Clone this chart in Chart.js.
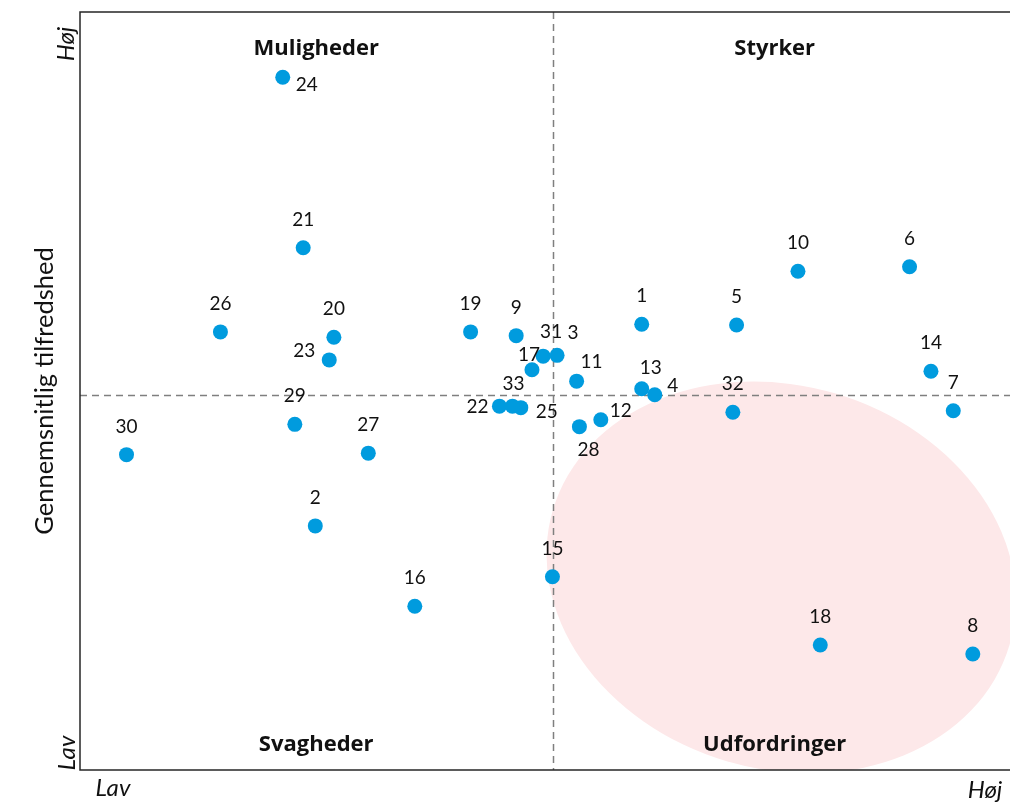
<!DOCTYPE html>
<html>
<head>
<meta charset="utf-8">
<script src="https://cdn.jsdelivr.net/npm/chart.js@4/dist/chart.umd.min.js"></script>
<style>
  html, body { margin: 0; padding: 0; background: #fff; overflow: hidden; }
  #wrap { width: 1010px; height: 803px; }
</style>
</head>
<body>
<div id="wrap"><canvas id="c" width="1010" height="803"></canvas></div>
<script>
// ---- Data ----
const pointIds = ['1','2','3','4','5','6','7','8','9','10','11','12','13','14','15','16','17','18','19','20','21','22','23','24','25','26','27','28','29','30','31','32','33'];
const importance = [60.4, 25.3, 51.3, 61.8, 70.6, 89.2, 93.9, 96.0, 46.9, 77.2, 53.4, 56.0, 60.4, 91.5, 50.8, 36.0, 48.6, 79.6, 42.0, 27.3, 24.0, 45.1, 26.8, 21.8, 47.4, 15.1, 31.0, 53.7, 23.1, 5.0, 49.8, 70.2, 46.5];
const satisfaction = [58.8, 32.2, 54.7, 49.5, 58.7, 66.4, 47.4, 15.3, 57.3, 65.8, 51.3, 46.2, 50.3, 52.6, 25.5, 21.6, 52.8, 16.5, 57.8, 57.1, 68.9, 48.0, 54.1, 91.4, 47.8, 57.8, 41.8, 45.3, 45.6, 41.6, 54.6, 47.2, 48.0];
const meanImportance = 50.9;
const meanSatisfaction = 49.5;
const quadrantNames = ['Muligheder', 'Styrker', 'Svagheder', 'Udfordringer'];
const yAxisTitle = 'Gennemsnitlig tilfredshed';
const axisEndLabels = ['Lav', 'Høj'];

// ---- Styles / label placement (pixel offsets from point) ----
const defaultLabelOffset = [0, -28];
const labelOffsets = {
  '3': [16, -22], '4': [18, -9], '11': [15, -19], '12': [20, -9], '13': [9, -21],
  '17': [-3, -15], '22': [-22, 1], '23': [-25, -9], '24': [24, 8], '25': [26, 4],
  '28': [9, 23], '31': [8, -24], '33': [1, -22]
};
const pointColor = '#009BDE';
const labelFont = '19px Lato';
const quadFont = 'bold 22px "Open Sans"';

const points = importance.map((x, i) => ({ x: x, y: satisfaction[i], id: pointIds[i] }));

const ellipsePlugin = {
  id: 'ellipse',
  beforeDatasetsDraw(chart) {
    const { ctx, chartArea: a, scales: { x, y } } = chart;
    ctx.save();
    ctx.beginPath();
    ctx.rect(a.left, a.top, a.right - a.left, a.bottom - a.top);
    ctx.clip();
    // shaded "Udfordringer" zone
    const cx = x.getPixelForValue(75.4), cy = y.getPixelForValue(25.4);
    const rx = (a.right - a.left) * 0.256, ry = (a.bottom - a.top) * 0.253;
    ctx.beginPath();
    ctx.ellipse(cx, cy, rx, ry, 16.5 * Math.PI / 180, 0, Math.PI * 2);
    ctx.fillStyle = '#FDE8E9';
    ctx.fill();
    // mean lines
    ctx.setLineDash([7, 5]);
    ctx.strokeStyle = '#7F7F7F';
    ctx.lineWidth = 1.5;
    const mx = Math.round(x.getPixelForValue(meanImportance)) + 0.5;
    const my = Math.round(y.getPixelForValue(meanSatisfaction)) + 0.5;
    ctx.beginPath();
    ctx.moveTo(mx, a.top); ctx.lineTo(mx, a.bottom);
    ctx.moveTo(a.left, my); ctx.lineTo(a.right, my);
    ctx.stroke();
    ctx.restore();

    // quadrant names
    ctx.save();
    ctx.font = quadFont;
    ctx.fillStyle = '#111';
    ctx.textAlign = 'center';
    ctx.textBaseline = 'middle';
    const qx = [25.4, 74.7, 25.4, 74.7], qy = [95.1, 95.1, 3.3, 3.3];
    quadrantNames.forEach((t, i) => ctx.fillText(t, x.getPixelForValue(qx[i]), y.getPixelForValue(qy[i])));
    ctx.restore();

    // frame (top, left, bottom)
    ctx.save();
    ctx.strokeStyle = '#262626';
    ctx.lineWidth = 1.5;
    ctx.beginPath();
    ctx.moveTo(a.right, a.top); ctx.lineTo(a.left, a.top); ctx.lineTo(a.left, a.bottom); ctx.lineTo(a.right, a.bottom);
    ctx.stroke();
    ctx.restore();

    // axis texts
    ctx.save();
    ctx.fillStyle = '#111';
    ctx.textBaseline = 'middle';
    ctx.textAlign = 'center';
    ctx.font = 'italic 24px Lato';
    ctx.fillText(axisEndLabels[0], a.left + 33, a.bottom + 18);
    ctx.fillText(axisEndLabels[1], a.right - 25, a.bottom + 20);
    const vtext = (t, px, py, font) => {
      ctx.save(); ctx.translate(px, py); ctx.rotate(-Math.PI / 2); ctx.font = font; ctx.fillText(t, 0, 0); ctx.restore();
    };
    vtext(axisEndLabels[1], a.left - 14, a.top + 32, 'italic 24px Lato');
    vtext(axisEndLabels[0], a.left - 13, a.bottom - 17, 'italic 24px Lato');
    vtext(yAxisTitle, a.left - 35, (a.top + a.bottom) / 2, '25.5px Lato');
    ctx.restore();
  },
  afterDatasetsDraw(chart) {
    const { ctx } = chart;
    const meta = chart.getDatasetMeta(0);
    ctx.save();
    ctx.font = labelFont;
    ctx.fillStyle = '#111';
    ctx.textAlign = 'center';
    ctx.textBaseline = 'middle';
    meta.data.forEach((el, i) => {
      const id = pointIds[i];
      const off = labelOffsets[id] || defaultLabelOffset;
      ctx.fillText(id, el.x + off[0], el.y + off[1]);
    });
    ctx.restore();
  }
};

new Chart(document.getElementById('c'), {
  type: 'scatter',
  data: {
    datasets: [{
      data: points,
      backgroundColor: pointColor,
      borderWidth: 0,
      pointRadius: 7.5,
      pointHoverRadius: 7.5
    }]
  },
  options: {
    responsive: false,
    animation: false,
    layout: { autoPadding: false, padding: { left: 80, top: 12, right: 0, bottom: 33 } },
    plugins: { legend: { display: false }, tooltip: { enabled: false } },
    scales: {
      x: { type: 'linear', min: 0, max: 100, display: false },
      y: { type: 'linear', min: 0, max: 100, display: false }
    }
  },
  plugins: [ellipsePlugin]
});
</script>
</body>
</html>
